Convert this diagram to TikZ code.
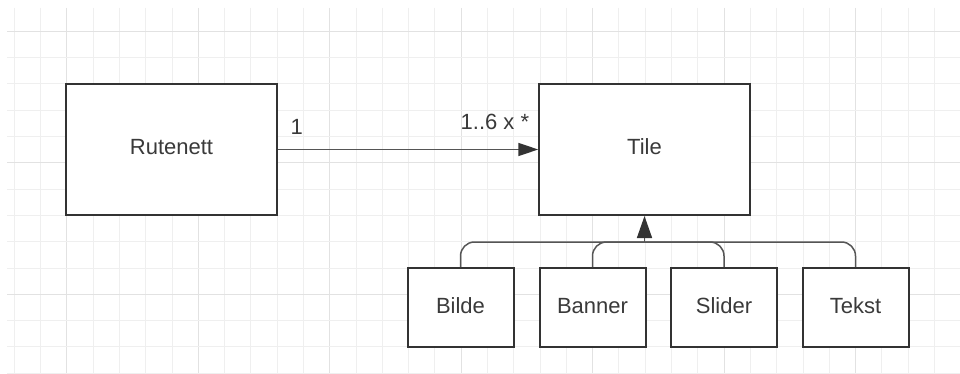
\documentclass[tikz,border=0pt]{standalone}
\usepackage{fontspec}
\setmainfont{Liberation Sans}
\usetikzlibrary{arrows.meta}
\definecolor{gridminor}{HTML}{EFEFEF}
\definecolor{gridmajor}{HTML}{E2E2E2}
\definecolor{boxline}{HTML}{333333}
\definecolor{connline}{HTML}{555555}
\definecolor{txt}{HTML}{3A3A3A}
\tikzset{
  umlbox/.style={draw=boxline, line width=2pt, fill=white, inner sep=0pt,
    text=txt, font=\fontsize{22}{26}\selectfont, text height=16pt, text depth=5pt},
  bigbox/.style={umlbox, minimum width=210.5pt, minimum height=131pt},
  smallbox/.style={umlbox, minimum width=106pt, minimum height=79pt},
  conn/.style={draw=connline, line width=1.5pt},
  mult/.style={text=txt, font=\fontsize{22}{26}\selectfont, inner sep=0pt}
}
\begin{document}
\begin{tikzpicture}[x=1pt,y=-1pt]
\useasboundingbox (0,0) rectangle (960,374);
\fill[white] (0,0) rectangle (960,374);
% grid
\foreach \n in {0,...,35} {
  \pgfmathsetmacro{\gx}{14.3+26.29*\n}
  \pgfmathtruncatemacro{\m}{mod(\n+3,5)}
  \ifnum\m=0
    \draw[gridmajor, line width=1pt] (\gx,8) -- (\gx,374);
  \else
    \draw[gridminor, line width=1pt] (\gx,8) -- (\gx,374);
  \fi
}
\foreach \k in {0,...,13} {
  \pgfmathsetmacro{\gy}{31.3+26.3*\k}
  \pgfmathtruncatemacro{\m}{mod(\k,5)}
  \ifnum\m=0
    \draw[gridmajor, line width=1pt] (7,\gy) -- (960,\gy);
  \else
    \draw[gridminor, line width=1pt] (7,\gy) -- (960,\gy);
  \fi
}
% boxes
\node[bigbox] (rut) at (171.5,149.5) {Rutenett};
\node[bigbox] (tile) at (644.5,149.5) {Tile};
\node[smallbox] (bilde) at (460.5,307.5) {Bilde};
\node[smallbox] (banner) at (592.5,307.5) {Banner};
\node[smallbox] (slider) at (724,307.5) {Slider};
\node[smallbox] (tekst) at (855.5,307.5) {Tekst};
% association
\draw[conn, -{Triangle[length=20pt,width=13pt,color=boxline]}] (rut.east) -- (tile.west);
\node[mult, anchor=base west] (m1) at (290.5,135) {1};
\node[mult, anchor=base west] (m2) at (460.5,129.3) {1..6 x *};
% generalization
\coordinate (j) at (644.5,242);
\draw[conn, rounded corners=14pt] (bilde.north) |- (j);
\draw[conn, rounded corners=14pt] (banner.north) |- (j);
\draw[conn, rounded corners=14pt] (slider.north) |- (j);
\draw[conn, rounded corners=14pt] (tekst.north) |- (j);
\draw[conn, -{Triangle[length=22pt,width=15pt,color=boxline]}] (j) -- (tile.south);
\end{tikzpicture}
\end{document}
